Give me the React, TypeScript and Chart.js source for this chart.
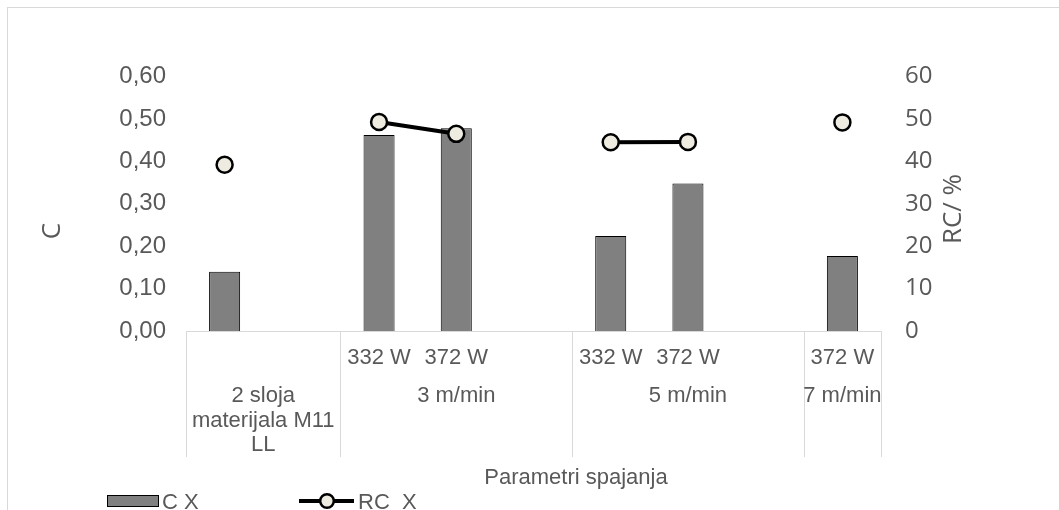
import React, { useEffect, useRef } from 'react';
import { Chart, registerables } from 'chart.js';

Chart.register(...registerables);

// ---- data ----
const categories = ['2 sloja materijala M11 LL', '', '3 m/min 332 W', '3 m/min 372 W', '', '5 m/min 332 W', '5 m/min 372 W', '', '7 m/min 372 W'];
const powerLabels = ['', '', '332 W', '372 W', '', '332 W', '372 W', '', '372 W'];
const groupLabels = [['2 sloja', 'materijala M11', 'LL'], ['3 m/min'], ['5 m/min'], ['7 m/min']];
const groupSizes = [2, 3, 3, 1];
const cValues = [0.14, null, 0.462, 0.478, null, 0.224, 0.348, null, 0.177];
const rcValues = [39.2, null, 49.3, 46.5, null, 44.5, 44.6, null, 49.2];
const leftAxisMax = 0.6;
const leftAxisStep = 0.1;
const rightAxisMax = 60;
const rightAxisStep = 10;
const xTitle = 'Parametri spajanja';
const leftTitle = 'C';
const rightTitle = 'RC/ %';
const barLegend = 'C X';
const lineLegend = 'RC  X';

const W = 1059;
const H = 510;
const ARIAL = '"Liberation Sans", Arial, sans-serif';
const OPEN = '"Open Sans", sans-serif';
const TEXT = '#595959';

const decor = {
  id: 'decor',
  beforeDraw(chart: any) {
    const ctx = chart.ctx;
    ctx.save();
    ctx.fillStyle = '#ffffff';
    ctx.fillRect(0, 0, W, H);
    ctx.strokeStyle = '#d9d9d9';
    ctx.lineWidth = 1;
    ctx.strokeRect(7.5, 7.5, W + 10, H + 10);
    ctx.restore();
  },
  afterDraw(chart: any) {
    const ctx = chart.ctx;
    const x = chart.scales.x;
    const area = chart.chartArea;
    const slot = x.getPixelForValue(1) - x.getPixelForValue(0);
    ctx.save();
    // group separators
    const bounds: number[] = [x.getPixelForValue(0) - slot / 2];
    let idx = 0;
    groupSizes.forEach((n) => {
      idx += n;
      bounds.push(x.getPixelForValue(idx - 1) + slot / 2);
    });
    ctx.strokeStyle = '#d9d9d9';
    ctx.lineWidth = 1;
    bounds.forEach((b) => {
      const bx = Math.round(b) + 0.5;
      ctx.beginPath();
      ctx.moveTo(bx, area.bottom);
      ctx.lineTo(bx, 457);
      ctx.stroke();
    });
    // sub labels
    ctx.fillStyle = TEXT;
    ctx.textAlign = 'center';
    ctx.textBaseline = 'alphabetic';
    ctx.font = `22px ${ARIAL}`;
    powerLabels.forEach((l, i) => {
      if (l) ctx.fillText(l, x.getPixelForValue(i), 363.5);
    });
    // group labels
    groupLabels.forEach((lines, g) => {
      const cx = (bounds[g] + bounds[g + 1]) / 2;
      lines.forEach((t, k) => ctx.fillText(t, cx, 402 + k * 24.5));
    });
    // x title
    ctx.fillText(xTitle, 576, 483.5);
    // y titles
    ctx.font = `26px ${OPEN}`;
    ctx.textBaseline = 'middle';
    ctx.save();
    ctx.translate(52.5, 231);
    ctx.rotate(-Math.PI / 2);
    ctx.fillText(leftTitle, 0, 0);
    ctx.restore();
    ctx.save();
    ctx.translate(954, 209);
    ctx.rotate(-Math.PI / 2);
    ctx.fillText(rightTitle, 0, 0);
    ctx.restore();
    // legend
    ctx.fillStyle = '#808080';
    ctx.fillRect(107, 495, 52, 12);
    ctx.strokeStyle = '#000';
    ctx.lineWidth = 1;
    ctx.strokeRect(107.5, 495.5, 51, 11);
    ctx.fillStyle = TEXT;
    ctx.textAlign = 'left';
    ctx.textBaseline = 'alphabetic';
    ctx.font = `22px ${ARIAL}`;
    ctx.fillText(barLegend, 162, 508.5);
    ctx.strokeStyle = '#000';
    ctx.lineWidth = 4;
    ctx.beginPath();
    ctx.moveTo(299, 501);
    ctx.lineTo(354, 501);
    ctx.stroke();
    ctx.beginPath();
    ctx.arc(327, 501, 6.8, 0, Math.PI * 2);
    ctx.fillStyle = '#eeece1';
    ctx.fill();
    ctx.lineWidth = 2.5;
    ctx.stroke();
    ctx.fillStyle = TEXT;
    ctx.fillText(lineLegend, 358, 508.5);
    ctx.restore();
  },
};

export default function App() {
  const ref = useRef<HTMLCanvasElement>(null);
  useEffect(() => {
    if (!ref.current) return;
    const chart = new Chart(ref.current, {
      type: 'bar',
      data: {
        labels: categories,
        datasets: [
          {
            type: 'line',
            label: lineLegend,
            data: rcValues,
            yAxisID: 'y1',
            borderColor: '#000000',
            borderWidth: 4,
            pointRadius: 8,
            pointHoverRadius: 8,
            pointBorderWidth: 2.5,
            pointBackgroundColor: '#eeece1',
            pointBorderColor: '#000000',
            spanGaps: false,
            order: 0,
          } as any,
          {
            type: 'bar',
            label: barLegend,
            data: cValues,
            yAxisID: 'y',
            backgroundColor: '#808080',
            borderColor: '#000000',
            borderWidth: 1,
            barPercentage: 0.402,
            categoryPercentage: 1,
            order: 1,
          } as any,
        ],
      },
      options: {
        responsive: false,
        animation: false,
        devicePixelRatio: 1,
        layout: { padding: { top: 76.6, left: 0, right: 0, bottom: 0 } },
        plugins: { legend: { display: false }, tooltip: { enabled: false } },
        scales: {
          x: {
            type: 'category',
            offset: true,
            grid: { display: false, drawTicks: false },
            border: { display: true, color: '#d9d9d9', width: 1 },
            ticks: { display: false },
            afterFit: (s: any) => { s.height = H - 331; },
          },
          y: {
            position: 'left',
            min: 0,
            max: leftAxisMax,
            grid: { display: false, drawTicks: false },
            border: { display: false },
            ticks: {
              stepSize: leftAxisStep,
              padding: 20,
              color: TEXT,
              font: { family: ARIAL, size: 24 },
              callback: (v: any) => Number(v).toFixed(2).replace('.', ','),
            },
            afterFit: (s: any) => { s.width = 186; },
          },
          y1: {
            position: 'right',
            min: 0,
            max: rightAxisMax,
            grid: { display: false, drawTicks: false },
            border: { display: false },
            ticks: {
              stepSize: rightAxisStep,
              padding: 24,
              color: TEXT,
              font: { family: OPEN, size: 24 },
            },
            afterFit: (s: any) => { s.width = W - 881; },
          },
        },
      } as any,
      plugins: [decor],
    });
    return () => chart.destroy();
  }, []);
  return (
    <div style={{ position: 'absolute', left: 0, top: 0, width: W, height: H }}>
      <canvas ref={ref} width={W} height={H} style={{ display: 'block', width: W, height: H }} />
    </div>
  );
}
